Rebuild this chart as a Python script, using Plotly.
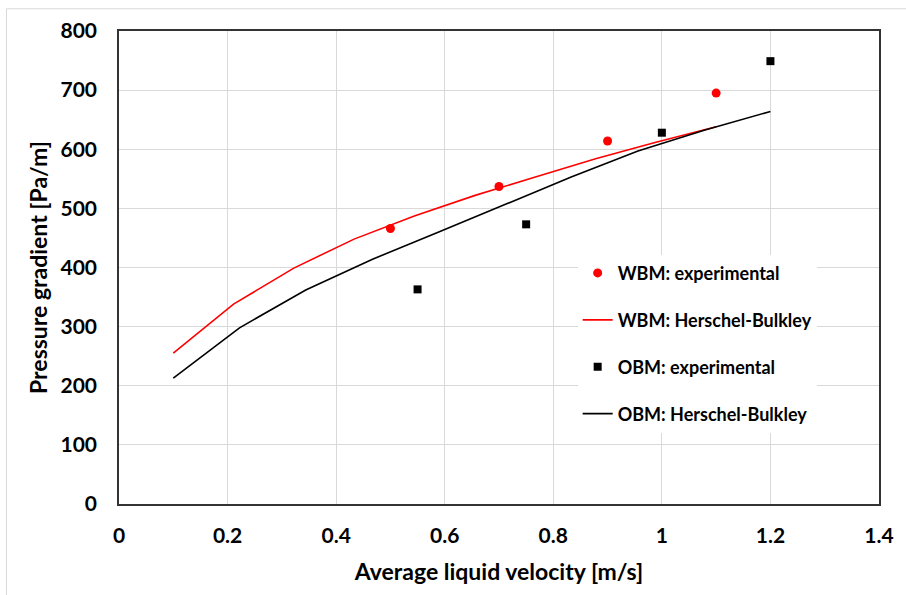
import plotly.graph_objects as go

# Experimental data
wbm_exp_x = [0.5, 0.7, 0.9, 1.1]
wbm_exp_y = [466, 537, 614, 695]
obm_exp_x = [0.55, 0.75, 1.0, 1.2]
obm_exp_y = [363, 473, 628, 749]

# Herschel-Bulkley model curves
wbm_hb_x = [0.1, 0.211, 0.322, 0.433, 0.544, 0.656, 0.767, 0.878, 0.989, 1.1]
wbm_hb_y = [255, 338, 399, 448, 487, 522, 553, 584, 612, 638]
obm_hb_x = [0.1, 0.222, 0.344, 0.467, 0.589, 0.711, 0.833, 0.956, 1.078, 1.2]
obm_hb_y = [213, 298, 362, 414, 460, 506, 553, 597, 632, 664]

FONT = "Lato, Carlito, sans-serif"

fig = go.Figure()
fig.add_trace(go.Scatter(x=wbm_exp_x, y=wbm_exp_y, mode="markers", name="WBM: experimental",
                         marker=dict(color="#ff0000", size=9, symbol="circle"), legendgroup="a"))
fig.add_trace(go.Scatter(x=wbm_hb_x, y=wbm_hb_y, mode="lines", name="WBM: Herschel-Bulkley",
                         line=dict(color="#ff0000", width=1.6), legendgroup="b"))
fig.add_trace(go.Scatter(x=obm_exp_x, y=obm_exp_y, mode="markers", name="OBM: experimental",
                         marker=dict(color="#000000", size=8, symbol="square"), legendgroup="c"))
fig.add_trace(go.Scatter(x=obm_hb_x, y=obm_hb_y, mode="lines", name="OBM: Herschel-Bulkley",
                         line=dict(color="#000000", width=1.6), legendgroup="d"))

fig.update_layout(
    width=906, height=595,
    margin=dict(l=119, r=19, t=31, b=91),
    paper_bgcolor="white", plot_bgcolor="white",
    font=dict(family=FONT, color="#000000"),
    showlegend=True,
    legend=dict(x=0.6035, y=0.527, xanchor="left", yanchor="top",
                bgcolor="white", borderwidth=0,
                font=dict(family=FONT, size=18, color="#000000", weight="bold"),
                tracegroupgap=20.5, itemwidth=30),
    xaxis=dict(range=[0, 1.4], dtick=0.2, tick0=0, showgrid=True, gridcolor="#d9d9d9", gridwidth=1,
               showline=True, linecolor="#333333", linewidth=1.5, mirror=True, zeroline=False,
               ticks="", ticklabelstandoff=12, tickfont=dict(family=FONT, size=21, weight="bold"),
               title=dict(text="Average liquid velocity [m/s]", font=dict(family=FONT, size=23, weight="bold"), standoff=18)),
    yaxis=dict(range=[0, 800], dtick=100, tick0=0, showgrid=True, gridcolor="#d9d9d9", gridwidth=1,
               showline=True, linecolor="#333333", linewidth=1.5, mirror=True, zeroline=False,
               ticks="", ticklabelstandoff=16, tickfont=dict(family=FONT, size=21, weight="bold"),
               title=dict(text="Pressure gradient [Pa/m]", font=dict(family=FONT, size=23, weight="bold"), standoff=6)),
    shapes=[dict(type="rect", xref="paper", yref="paper", x0=-0.148, x1=1.2, y0=-0.3, y1=1.047,
                 line=dict(color="#d9d9d9", width=1), fillcolor="rgba(0,0,0,0)", layer="below")],
)

fig.write_html("out.html")
